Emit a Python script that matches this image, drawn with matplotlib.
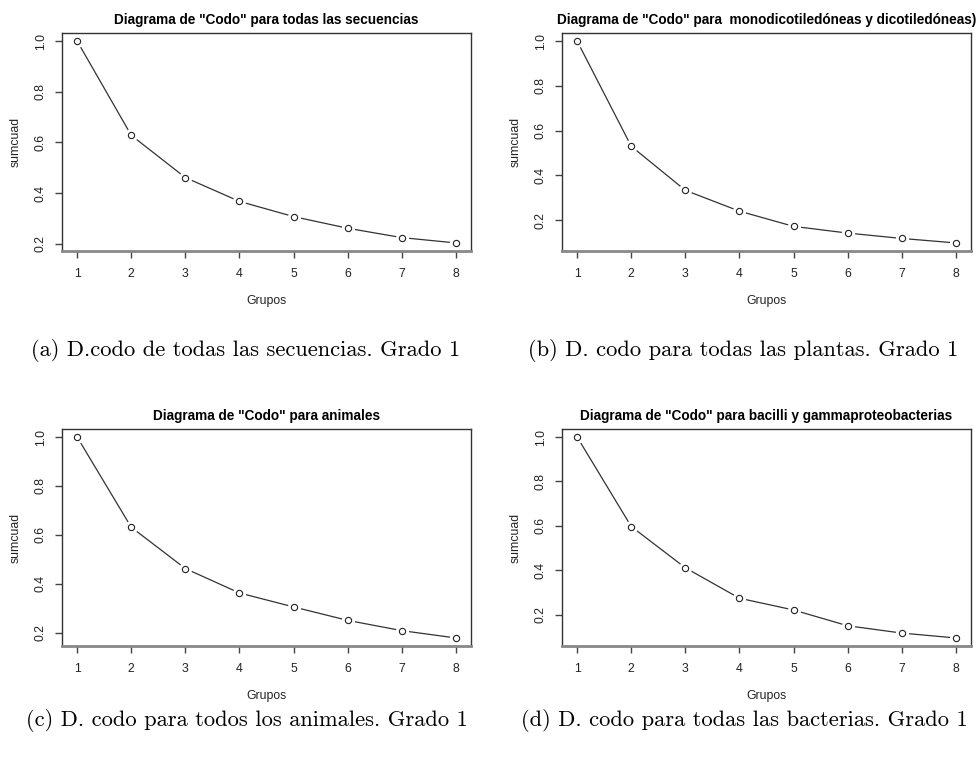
import matplotlib
matplotlib.use("Agg")
import matplotlib.pyplot as plt
import numpy as np

grupos = [1, 2, 3, 4, 5, 6, 7, 8]
todas = [1.0, 0.628, 0.461, 0.367, 0.307, 0.261, 0.224, 0.203]
plantas = [1.0, 0.530, 0.333, 0.240, 0.172, 0.142, 0.118, 0.098]
animales = [1.0, 0.631, 0.462, 0.362, 0.305, 0.250, 0.208, 0.178]
bacterias = [1.0, 0.597, 0.411, 0.274, 0.221, 0.150, 0.117, 0.095]

titles = ['Diagrama de "Codo" para todas las secuencias',
          'Diagrama de "Codo" para  monodicotiledóneas y dicotiledóneas)',
          'Diagrama de "Codo" para animales',
          'Diagrama de "Codo" para bacilli y gammaproteobacterias']
captions = ["(a) D.codo de todas las secuencias. Grado 1",
            "(b) D. codo para todas las plantas. Grado 1",
            "(c) D. codo para todos los animales. Grado 1",
            "(d) D. codo para todas las bacterias. Grado 1"]
yticks = [0.2, 0.4, 0.6, 0.8, 1.0]
ytick_labels = ["0.2", "0.4", "0.6", "0.8", "1.0"]
xlabel = "Grupos"
ylabel = "sumcuad"

W, H = 979, 759
fig = plt.figure(figsize=(W / 100, H / 100), dpi=100)
sans = ["Liberation Sans", "DejaVu Sans"]

# panel boxes in pixels: left, top, right, bottom
boxes = [(62, 33, 471, 251), (562, 33, 971, 251),
         (62, 429, 471, 646), (562, 429, 971, 646)]
caption_pos = [(246, 351), (743, 351), (247, 721), (744, 721)]
series = [todas, plantas, animales, bacterias]

txt = "#222222"
for i, (l, t, r, b) in enumerate(boxes):
    ax = fig.add_axes([l / W, 1 - b / H, (r - l) / W, (b - t) / H])
    y = series[i]
    ax.plot(grupos, y, color="#333333", lw=0.9, zorder=1)
    ax.plot(grupos, y, ls="none", marker="o", ms=8.5, mfc="white", mec="white", zorder=2)
    ax.plot(grupos, y, ls="none", marker="o", ms=4.5, mfc="white", mec="#222222", mew=0.8, zorder=3)
    ax.margins(x=0.04, y=0.04)
    ax.set_xticks(grupos)
    ax.set_xticklabels([str(g) for g in grupos], fontfamily=sans, fontsize=8.8, color=txt)
    ax.set_yticks(yticks)
    ax.set_yticklabels(ytick_labels, rotation=90, va="center", fontfamily=sans, fontsize=8.8, color=txt)
    ax.tick_params(axis="both", direction="out", length=5, width=1, colors="#444444", labelcolor=txt)
    ax.tick_params(axis="x", pad=7)
    ax.tick_params(axis="y", pad=6)
    for s in ["left", "top", "right"]:
        ax.spines[s].set_color("#333333")
        ax.spines[s].set_linewidth(1.0)
    ax.spines["bottom"].set_color("#888888")
    ax.spines["bottom"].set_linewidth(2.0)
    cx = (l + r) / 2
    cy = (t + b) / 2
    fig.text(cx / W, 1 - (t - 13) / H, titles[i], ha="center", va="center",
             fontfamily=sans, fontsize=9.85, fontweight="bold", color="black")
    fig.text(cx / W, 1 - (b + 50) / H, xlabel, ha="center", va="center",
             fontfamily=sans, fontsize=8.8, color=txt)
    fig.text((l - 46) / W, 1 - cy / H, ylabel, ha="center", va="center", rotation=90,
             fontfamily=sans, fontsize=8.8, color=txt)
    px, py = caption_pos[i]
    fig.text(px / W, 1 - py / H, captions[i], ha="center", va="center",
             fontfamily=["cmr10", "DejaVu Serif"], fontsize=16.2, color="black")

fig.savefig("out.png", dpi=100, facecolor="white")
